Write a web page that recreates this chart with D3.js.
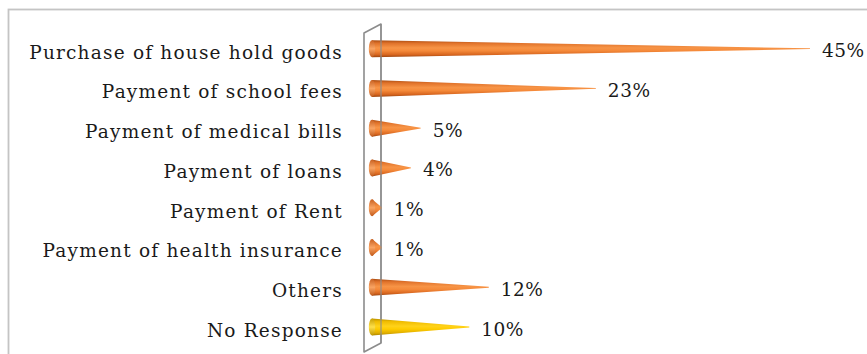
<!DOCTYPE html>
<html>
<head>
<meta charset="utf-8">
<script src="https://cdn.jsdelivr.net/npm/d3@7/dist/d3.min.js"></script>
<style>
  html, body { margin: 0; padding: 0; background: #fff; }
  svg { display: block; }
  text { font-family: "DejaVu Serif", "Liberation Serif", serif; fill: #1a1a1a; }
</style>
</head>
<body>
<svg id="chart" width="867" height="354"></svg>
<script>
// Uses of the money received
const categories = [
  "Purchase of house hold goods",
  "Payment of school fees",
  "Payment of medical bills",
  "Payment of loans",
  "Payment of Rent",
  "Payment of health insurance",
  "Others",
  "No Response"
];
const values = [45, 23, 5, 4, 1, 1, 12, 10];
const valueLabels = ["45%", "23%", "5%", "4%", "1%", "1%", "12%", "10%"];
const yellowCategories = ["No Response"];

const svg = d3.select("#chart");
const W = 867, H = 354;

// chart frame
svg.append("rect")
  .attr("x", 8.5).attr("y", 9.5)
  .attr("width", W + 10).attr("height", H + 10)
  .attr("fill", "#fff")
  .attr("stroke", "#c4c4c4").attr("stroke-width", 1.8);

const x = d3.scaleLinear().domain([0, 45]).range([372, 810]);
const y = d3.scalePoint().domain(categories).range([48.7, 327]);
const halfH = 8.5;

// gradients
const defs = svg.append("defs");
function bodyGrad(id, stops) {
  const g = defs.append("linearGradient").attr("id", id)
    .attr("x1", 0).attr("y1", 0).attr("x2", 0).attr("y2", 1);
  stops.forEach(([o, c]) => g.append("stop").attr("offset", o).attr("stop-color", c));
}
bodyGrad("coneOrange", [[0, "#a84c12"], [0.18, "#e0722a"], [0.45, "#f79446"], [0.62, "#f58a3a"], [0.85, "#d8661f"], [1, "#9c4510"]]);
bodyGrad("coneYellow", [[0, "#b89000"], [0.18, "#f0bc00"], [0.45, "#ffd21a"], [0.62, "#ffcc00"], [0.85, "#e0ae00"], [1, "#a88300"]]);
bodyGrad("baseOrange", [[0, "#c86020"], [0.5, "#f9a463"], [1, "#c25a1a"]]);
bodyGrad("baseYellow", [[0, "#c9a000"], [0.5, "#ffe04a"], [1, "#c09800"]]);

// back wall
svg.append("path")
  .attr("d", "M364,33 L381,24 L381,343 L364,352 Z")
  .attr("fill", "#fff")
  .attr("stroke", "#8c8c8c").attr("stroke-width", 1.6)
  .attr("stroke-linejoin", "round");

// cones
const isYellow = c => yellowCategories.includes(c);
const rows = categories.map((c, i) => ({ c, v: values[i], label: valueLabels[i] }));

const cones = svg.append("g").selectAll("g").data(rows).join("g");
cones.append("path")
  .attr("d", d => {
    const cy = y(d.c), x0 = x(0), xt = x(d.v);
    return `M${x0},${cy - halfH} L${xt},${cy - 0.4} L${xt},${cy + 0.4} L${x0},${cy + halfH} Z`;
  })
  .attr("fill", d => isYellow(d.c) ? "url(#coneYellow)" : "url(#coneOrange)");
cones.append("ellipse")
  .attr("cx", x(0)).attr("cy", d => y(d.c))
  .attr("rx", 3.2).attr("ry", halfH)
  .attr("fill", d => isYellow(d.c) ? "url(#baseYellow)" : "url(#baseOrange)");

// wall front edge drawn over the cones
svg.append("line")
  .attr("x1", 381).attr("y1", 24).attr("x2", 381).attr("y2", 343)
  .attr("stroke", "#8c8c8c").attr("stroke-width", 1.4).attr("stroke-opacity", 0.8);

// value labels
svg.append("g").selectAll("text").data(rows).join("text")
  .attr("x", d => x(d.v) + 12)
  .attr("y", d => y(d.c) + 8.5)
  .attr("font-size", 18.5)
  .attr("letter-spacing", 0.5)
  .text(d => d.label);

// category labels
svg.append("g").selectAll("text").data(categories).join("text")
  .attr("x", 343)
  .attr("y", d => y(d) + 10)
  .attr("text-anchor", "end")
  .attr("font-size", 18.5)
  .attr("letter-spacing", 1.2)
  .text(d => d);
</script>
</body>
</html>
